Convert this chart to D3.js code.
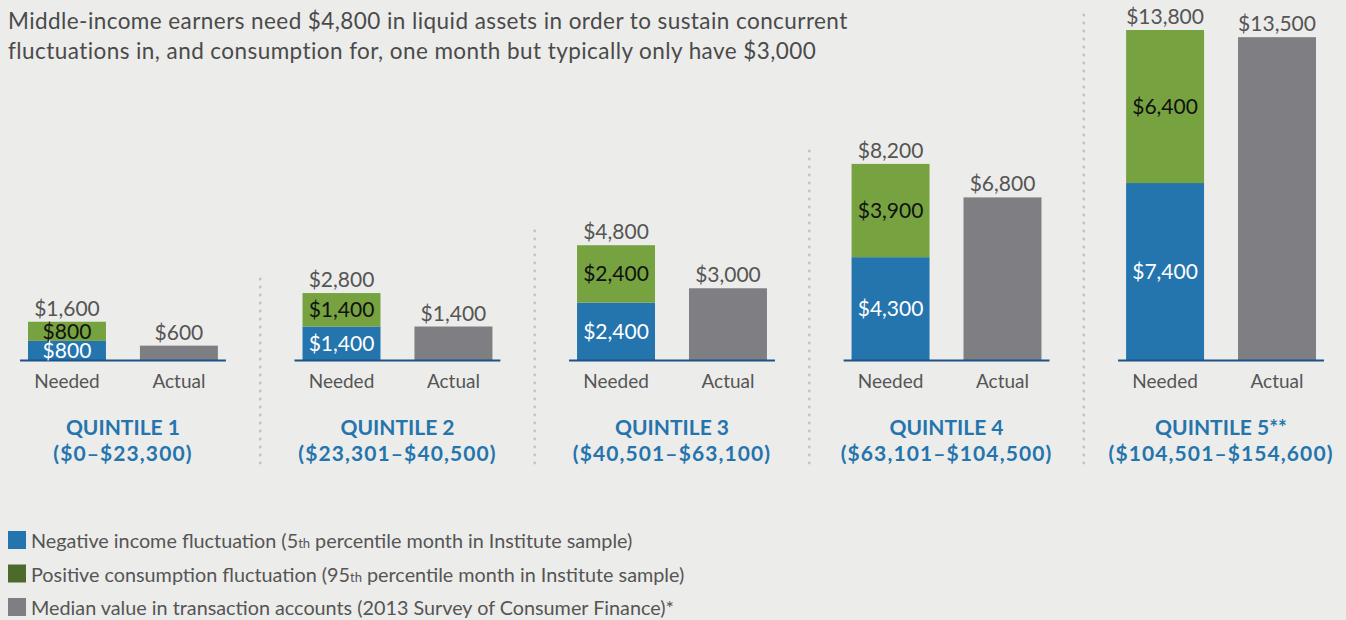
<!DOCTYPE html>
<html>
<head>
<meta charset="utf-8">
<script src="https://cdn.jsdelivr.net/npm/d3@7"></script>
<style>
  html, body { margin: 0; padding: 0; background: #ececea; }
  svg { display: block; font-family: Lato, "Noto Sans", sans-serif; }
</style>
</head>
<body>
<script>
// chart data
var quintiles = ["QUINTILE 1", "QUINTILE 2", "QUINTILE 3", "QUINTILE 4", "QUINTILE 5**"];
var ranges = ["($0–$23,300)", "($23,301–$40,500)", "($40,501–$63,100)", "($63,101–$104,500)", "($104,501–$154,600)"];
var incomeFluct = [800, 1400, 2400, 4300, 7400];
var consumptionFluct = [800, 1400, 2400, 3900, 6400];
var actualValue = [600, 1400, 3000, 6800, 13500];
var neededTotal = [1600, 2800, 4800, 8200, 13800];
var barNames = ["Needed", "Actual"];
var titleLines = ["Middle-income earners need $4,800 in liquid assets in order to sustain concurrent",
                  "fluctuations in, and consumption for, one month but typically only have $3,000"];

var blue = "#2474ad", green = "#76a240", gray = "#7f7e83", legendGreen = "#4c6a2c";
var textGray = "#555";

var W = 1346, H = 620;
var svg = d3.select("body").append("svg").attr("width", W).attr("height", H);

var x0 = d3.scaleBand().domain(quintiles).range([20, 1324]).paddingInner(0.25).paddingOuter(0);
var x1 = d3.scaleBand().domain(barNames).range([0, x0.bandwidth()]).paddingInner(0.3036).paddingOuter(0.0714);
var y = d3.scaleLinear().domain([0, 13800]).range([360, 30]);
var fmt = function (v) { return "$" + d3.format(",")(v); };

// title
svg.append("g").selectAll("text").data(titleLines).enter().append("text")
  .attr("x", 8).attr("y", function (d, i) { return 29 + i * 30; })
  .attr("fill", "#4a4a4a").style("font-size", "22.5px").style("letter-spacing", "0.43px")
  .text(function (d) { return d; });

// dotted separators
for (var k = 1; k < quintiles.length; k++) {
  var sx = x0(quintiles[k]) - x0.step() * x0.paddingInner() / 2;
  var sepTop = y(neededTotal[k]) - 20;
  var dots = d3.range(463, sepTop, -8);
  svg.append("g").selectAll("circle").data(dots).enter().append("circle")
    .attr("cx", sx).attr("cy", function (d) { return d; }).attr("r", 1.4)
    .attr("fill", "#c3c3c3");
}

var groups = svg.selectAll(".quint").data(quintiles).enter().append("g")
  .attr("class", "quint")
  .attr("transform", function (d) { return "translate(" + x0(d) + ",0)"; });

// stacked needed bars
groups.append("rect")
  .attr("x", x1("Needed")).attr("width", x1.bandwidth())
  .attr("y", function (d, i) { return y(incomeFluct[i]); })
  .attr("height", function (d, i) { return y(0) - y(incomeFluct[i]); })
  .attr("fill", blue);
groups.append("rect")
  .attr("x", x1("Needed")).attr("width", x1.bandwidth())
  .attr("y", function (d, i) { return y(incomeFluct[i] + consumptionFluct[i]); })
  .attr("height", function (d, i) { return y(incomeFluct[i]) - y(incomeFluct[i] + consumptionFluct[i]); })
  .attr("fill", green);
groups.append("rect")
  .attr("x", x1("Actual")).attr("width", x1.bandwidth())
  .attr("y", function (d, i) { return y(actualValue[i]); })
  .attr("height", function (d, i) { return y(0) - y(actualValue[i]); })
  .attr("fill", gray);

// baseline
groups.append("line")
  .attr("x1", 0).attr("x2", x0.bandwidth())
  .attr("y1", y(0) + 0.5).attr("y2", y(0) + 0.5)
  .attr("stroke", "#1d5288").attr("stroke-width", 2);

var cx = x1("Needed") + x1.bandwidth() / 2, ax = x1("Actual") + x1.bandwidth() / 2;

// value labels
groups.append("text").attr("x", cx).attr("y", function (d, i) { return y(neededTotal[i]) - 6; })
  .attr("text-anchor", "middle").attr("fill", textGray).style("font-size", "21px")
  .text(function (d, i) { return fmt(neededTotal[i]); });
groups.append("text").attr("x", ax).attr("y", function (d, i) { return y(actualValue[i]) - 6; })
  .attr("text-anchor", "middle").attr("fill", textGray).style("font-size", "21px")
  .text(function (d, i) { return fmt(actualValue[i]); });
groups.append("text").attr("x", cx)
  .attr("y", function (d, i) { return (y(0) + y(incomeFluct[i])) / 2; })
  .attr("dy", "0.36em").attr("text-anchor", "middle").attr("fill", "#fff").style("font-size", "21px")
  .text(function (d, i) { return fmt(incomeFluct[i]); });
groups.append("text").attr("x", cx)
  .attr("y", function (d, i) { return (y(incomeFluct[i]) + y(neededTotal[i])) / 2; })
  .attr("dy", "0.36em").attr("text-anchor", "middle").attr("fill", "#111").style("font-size", "21px")
  .text(function (d, i) { return fmt(consumptionFluct[i]); });

// category labels
groups.selectAll(".cat").data(barNames).enter().append("text")
  .attr("x", function (d) { return x1(d) + x1.bandwidth() / 2; }).attr("y", 388)
  .attr("text-anchor", "middle").attr("fill", textGray).style("font-size", "19px")
  .text(function (d) { return d; });

// quintile labels
groups.append("text").attr("x", x0.bandwidth() / 2).attr("y", 435)
  .attr("text-anchor", "middle").attr("fill", blue).style("font-size", "21px").style("font-weight", "bold")
  .text(function (d) { return d; });
groups.append("text").attr("x", x0.bandwidth() / 2).attr("y", 461)
  .attr("text-anchor", "middle").attr("fill", blue).style("font-size", "21px").style("font-weight", "bold")
  .style("letter-spacing", "1.1px")
  .text(function (d, i) { return ranges[i]; });

// legend
var legendColors = [blue, legendGreen, gray];
var legendParts = [["Negative income fluctuation (5", "th", " percentile month in Institute sample)"],
                   ["Positive consumption fluctuation (95", "th", " percentile month in Institute sample)"],
                   ["Median value in transaction accounts (2013 Survey of Consumer Finance)*", "", ""]];
var leg = svg.selectAll(".leg").data(legendParts).enter().append("g")
  .attr("transform", function (d, i) { return "translate(8," + (531 + i * 33.5) + ")"; });
leg.append("rect").attr("width", 18).attr("height", 18)
  .attr("fill", function (d, i) { return legendColors[i]; });
var lt = leg.append("text").attr("x", 23).attr("y", 17).attr("fill", textGray).style("font-size", "19.8px");
lt.append("tspan").text(function (d) { return d[0]; });
lt.append("tspan").style("font-size", "13px").text(function (d) { return d[1]; });
lt.append("tspan").text(function (d) { return d[2]; });
</script>
</body>
</html>
